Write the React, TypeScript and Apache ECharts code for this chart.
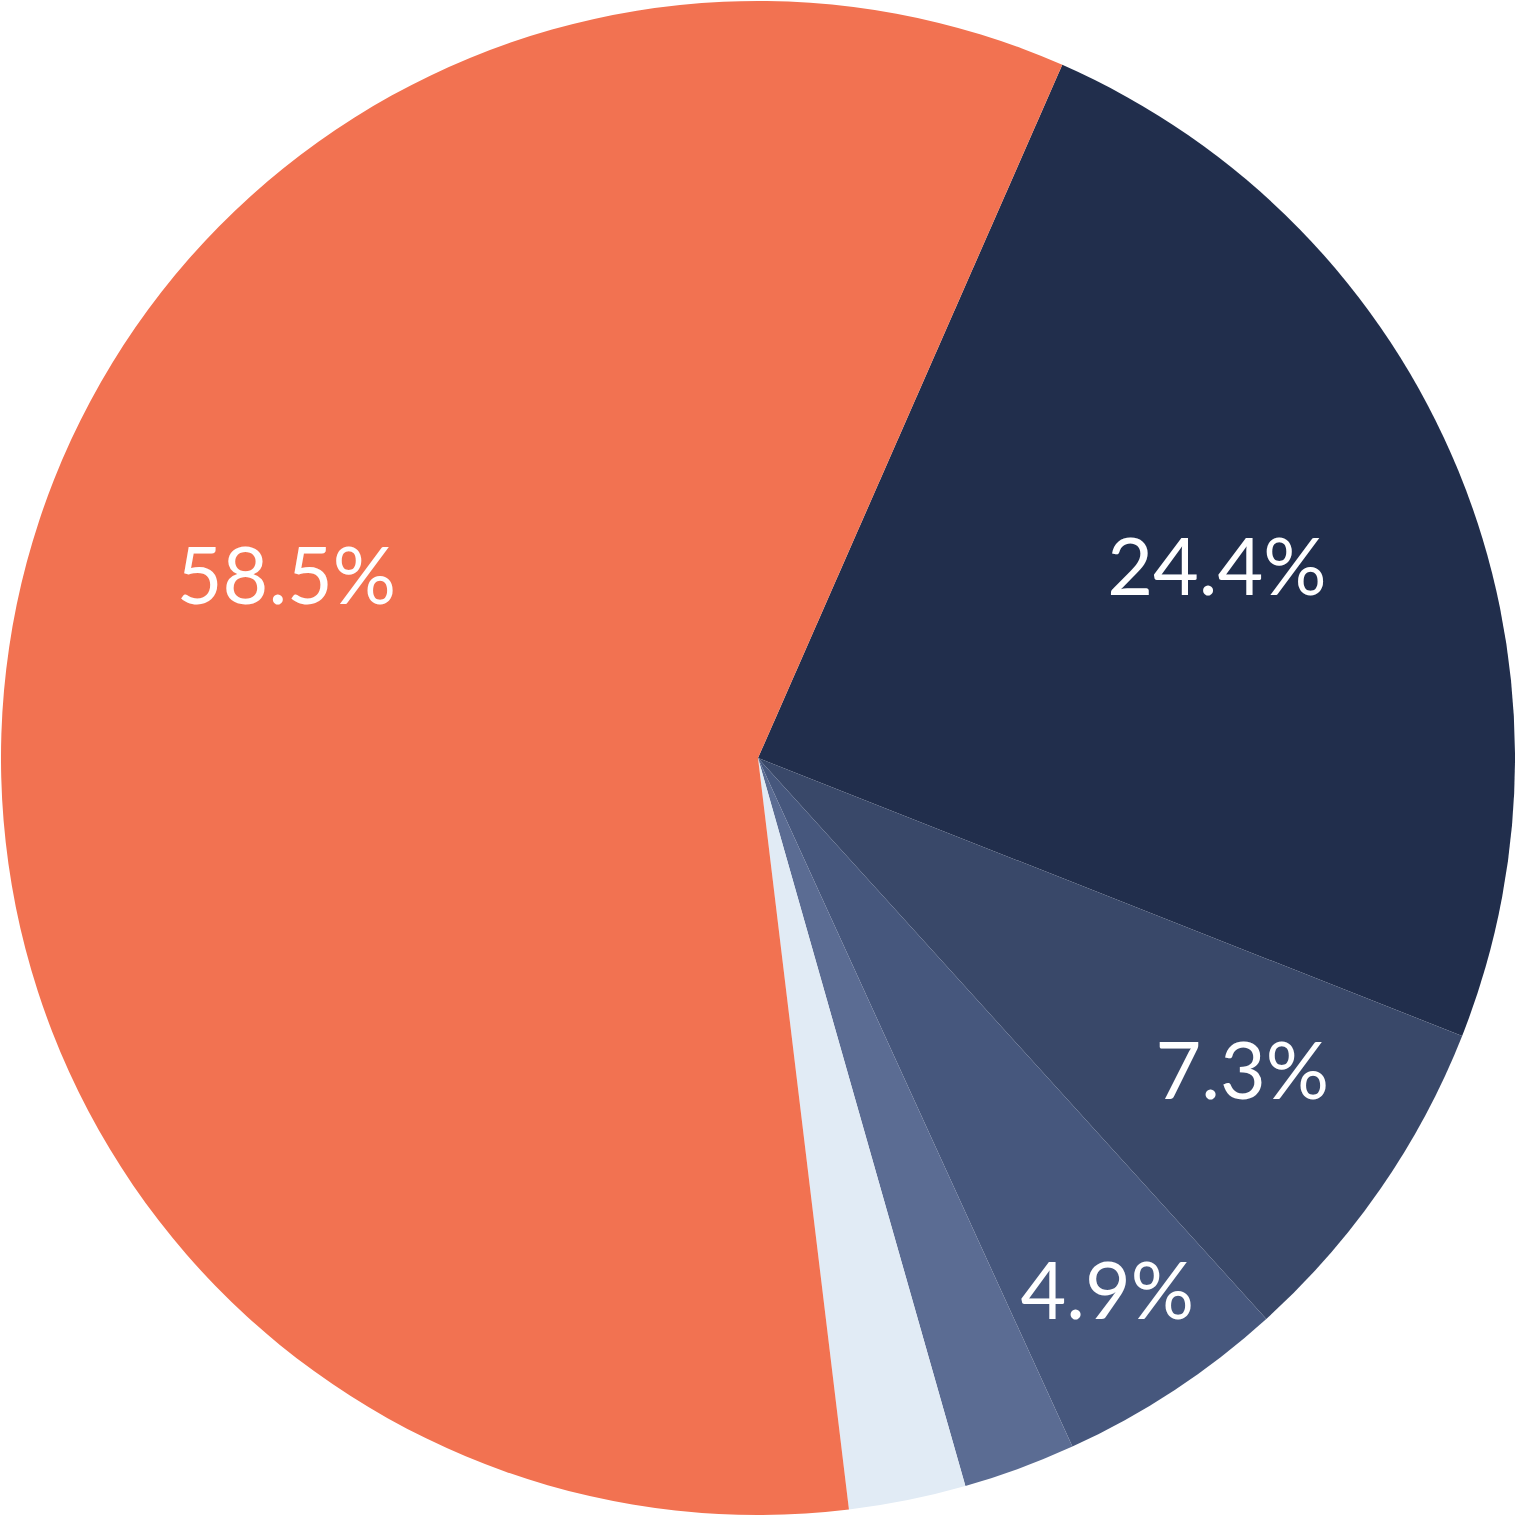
import React, { useEffect, useRef } from "react";
import * as echarts from "echarts";

// Slices listed clockwise, starting with the dark navy slice at the upper right
const sliceNames = ["Navy", "Slate", "Steel", "Blue grey", "Light", "Orange"];
const sliceValues = [24.4, 7.3, 4.9, 2.4, 2.5, 58.5];
const sliceLabels = ["24.4%", "7.3%", "4.9%", "", "", "58.5%"];

// styles
const sliceColors = ["#212E4C", "#394869", "#46577D", "#5B6C93", "#E1EBF5", "#F27251"];
const labelRadiusFrac = [0.658, 0.76, 0.839, 0.5, 0.5, 0.669];
const labelAngleShift = [-0.5, -2, 0, 0, 0, 13];
const START_CLOCK_DEG = 23.7; // clockwise from 12 o'clock
const CX = 758;
const CY = 758;
const R = 757;

export default function App() {
  const ref = useRef<HTMLDivElement>(null);
  useEffect(() => {
    if (!ref.current) return;
    const chart = echarts.init(ref.current, undefined, { renderer: "svg" });
    const total = sliceValues.reduce((a, b) => a + b, 0);
    const mids: number[] = [];
    let acc = START_CLOCK_DEG;
    sliceValues.forEach((v) => {
      const span = (v / total) * 360;
      mids.push(acc + span / 2);
      acc += span;
    });
    chart.setOption({
      animation: false,
      backgroundColor: "#ffffff",
      series: [
        {
          type: "pie",
          center: [CX, CY],
          radius: [0, R],
          startAngle: 90 - START_CLOCK_DEG,
          clockwise: true,
          avoidLabelOverlap: false,
          silent: true,
          itemStyle: { borderWidth: 0 },
          label: {
            show: true,
            position: "inside",
            color: "#ffffff",
            fontFamily: "Lato",
            fontWeight: 400,
            fontSize: 79,
            formatter: (p: any) => sliceLabels[p.dataIndex],
          },
          labelLine: { show: false },
          labelLayout: (p: any) => {
            const i = p.dataIndex;
            const th = ((mids[i] + labelAngleShift[i]) * Math.PI) / 180;
            const r = labelRadiusFrac[i] * R;
            return {
              x: CX + r * Math.sin(th),
              y: CY - r * Math.cos(th),
              align: "center",
              verticalAlign: "middle",
            };
          },
          data: sliceValues.map((v, i) => ({
            name: sliceNames[i],
            value: v,
            itemStyle: { color: sliceColors[i] },
            label: { show: sliceLabels[i] !== "" },
          })),
        },
      ],
    });
    return () => chart.dispose();
  }, []);
  return (
    <div
      ref={ref}
      style={{ position: "absolute", left: 0, top: 0, width: 1516, height: 1516 }}
    />
  );
}
